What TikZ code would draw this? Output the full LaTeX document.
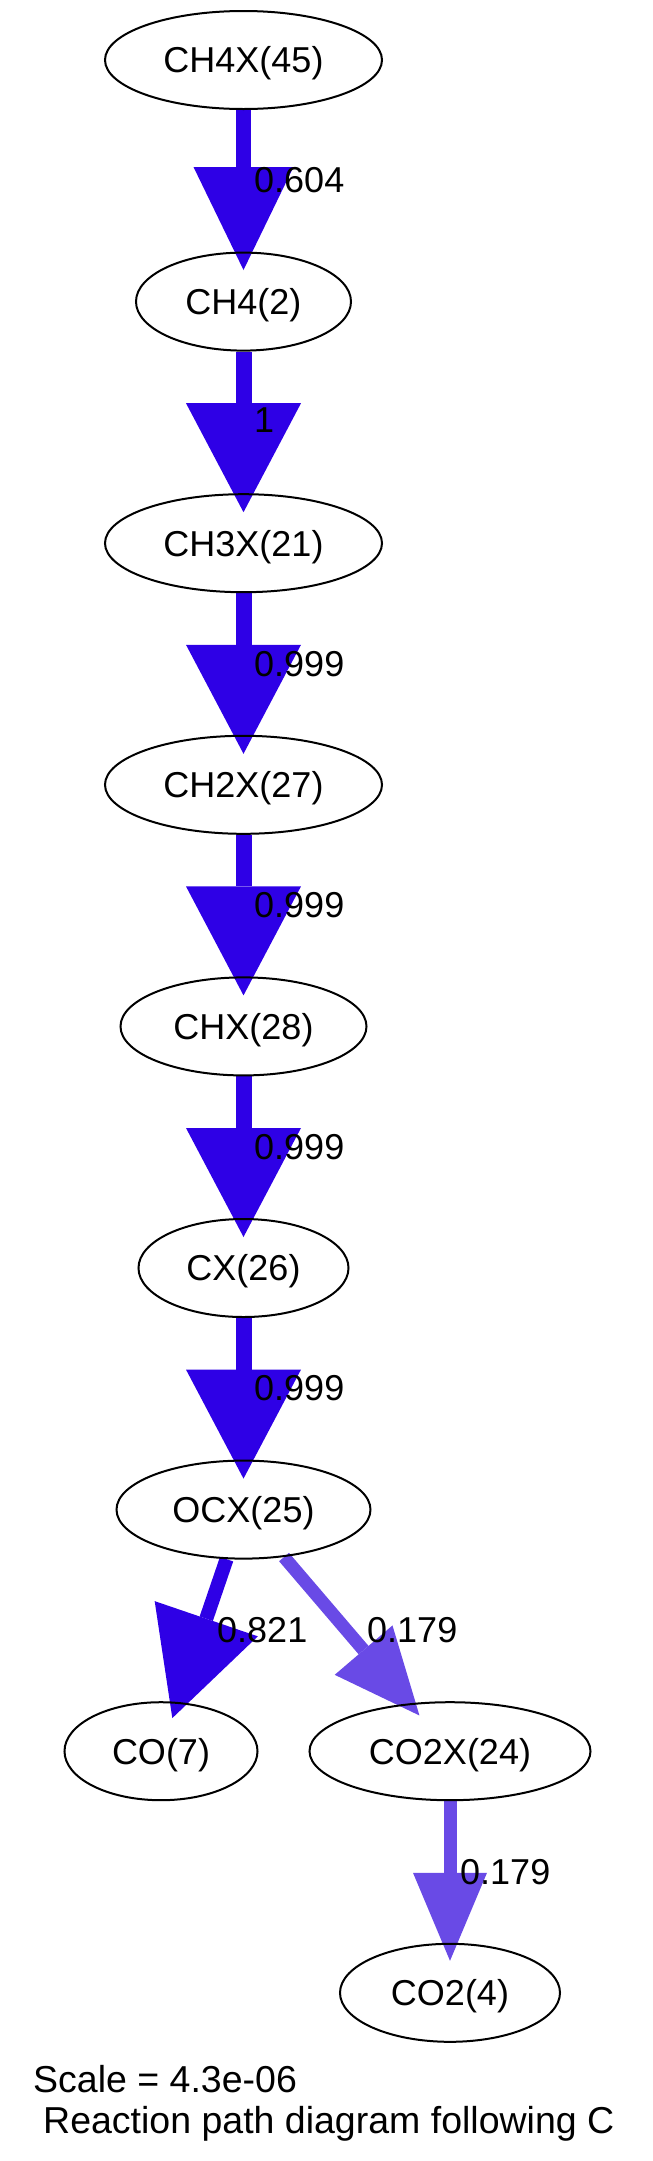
\documentclass[tikz,border=0pt]{standalone}
\usepackage{fontspec}
\setmainfont{Liberation Sans}
\usetikzlibrary{shapes.geometric,calc,backgrounds}
\definecolor{fluxA}{RGB}{46,0,230}
\definecolor{fluxB}{RGB}{105,74,230}
\newcommand{\fluxedge}[7]{%
  \coordinate (tip) at ($(#2)!#5!(#1)$);
  \coordinate (hb) at ($(tip)!#6!(#1)$);
  \draw[#3,line width=#4] (#1) -- (hb);
  \fill[#3] (tip) -- ($(hb)!#7!90:(tip)$) -- ($(hb)!#7!-90:(tip)$) -- cycle;
}
\begin{document}
\begin{tikzpicture}[x=1pt,y=-1pt,
  species/.style={ellipse,draw=black,line width=2pt,inner sep=0pt,minimum height=98pt,
    font=\fontsize{36}{40}\selectfont,text height=25.8pt,text depth=0pt},
  flabel/.style={anchor=west,inner sep=0pt,font=\fontsize{36}{40}\selectfont,
    text height=25.8pt,text depth=0pt},
  foot/.style={anchor=west,inner sep=0pt,font=\fontsize{37.5}{42}\selectfont,
    text height=26.8pt,text depth=0pt}]
\useasboundingbox (0,0) rectangle (653,2161);

\node[species,minimum width=277pt] (ch4x) at (243.5,60) {CH4X(45)};
\node[species,minimum width=215pt] (ch4) at (243.5,301.6) {CH4(2)};
\node[species,minimum width=277pt] (ch3x) at (243.5,543.2) {CH3X(21)};
\node[species,minimum width=277pt] (ch2x) at (243.5,784.8) {CH2X(27)};
\node[species,minimum width=246pt] (chx) at (243.5,1026.4) {CHX(28)};
\node[species,minimum width=210pt] (cx) at (243.5,1268) {CX(26)};
\node[species,minimum width=254pt] (ocx) at (243.5,1509.6) {OCX(25)};
\node[species,minimum width=193pt] (co) at (161,1751.2) {CO(7)};
\node[species,minimum width=281pt] (co2x) at (450,1751.2) {CO2X(24)};
\node[species,minimum width=220pt] (co2) at (450,1992.8) {CO2(4)};

\begin{pgfonlayer}{background}
\fluxedge{ch4x}{ch4}{fluxA}{15pt}{31.6pt}{103pt}{50pt}
\fluxedge{ch4}{ch3x}{fluxA}{16pt}{31pt}{109pt}{57.5pt}
\fluxedge{ch3x}{ch2x}{fluxA}{16pt}{31pt}{109pt}{57.5pt}
\fluxedge{ch2x}{chx}{fluxA}{16pt}{31pt}{109pt}{57.5pt}
\fluxedge{chx}{cx}{fluxA}{16pt}{31pt}{109pt}{57.5pt}
\fluxedge{cx}{ocx}{fluxA}{16pt}{31pt}{109pt}{57.5pt}
\fluxedge{ocx}{co}{fluxA}{14pt}{35pt}{105pt}{54.5pt}
\fluxedge{ocx}{co2x}{fluxB}{13pt}{47pt}{86pt}{38pt}
\fluxedge{co2x}{co2}{fluxB}{13pt}{32pt}{88pt}{37pt}
\end{pgfonlayer}

\node[flabel] (l1) at (254,180) {0.604};
\node[flabel] (l2) at (254,420) {1};
\node[flabel] (l3) at (254,663.2) {0.999};
\node[flabel] (l4) at (254,904.8) {0.999};
\node[flabel] (l5) at (254,1146.4) {0.999};
\node[flabel] (l6) at (254,1388) {0.999};
\node[flabel] (l7) at (217,1629.6) {0.821};
\node[flabel] (l8) at (367,1629.6) {0.179};
\node[flabel] (l9) at (460,1871.2) {0.179};

\node[foot] (s1) at (33,2079) {Scale = 4.3e-06};
\node[foot] (s2) at (43,2120) {Reaction path diagram following C};
\end{tikzpicture}
\end{document}
